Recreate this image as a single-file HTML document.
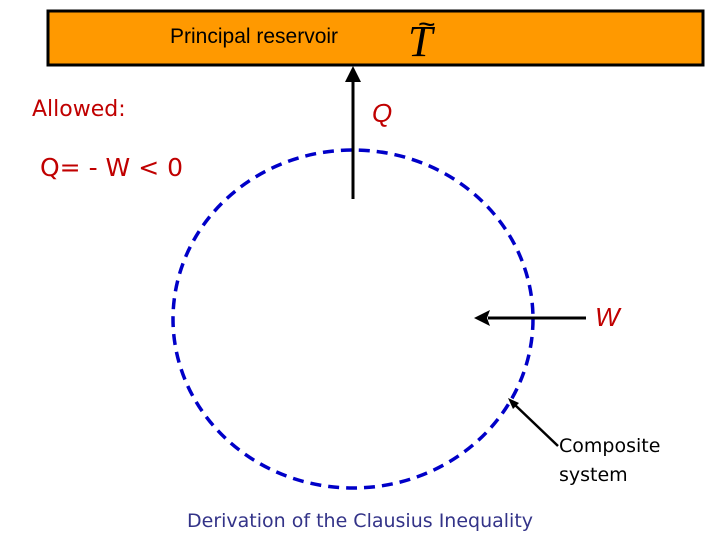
<!DOCTYPE html>
<html><head><meta charset="utf-8"><style>
body{margin:0;width:720px;height:540px;background:#fff;overflow:hidden;position:relative;font-family:"Liberation Sans",sans-serif}
.t{position:absolute;white-space:nowrap}
</style></head><body>
<svg width="720" height="540" style="position:absolute;left:0;top:0">
<rect x="48" y="11" width="655" height="54" fill="#ff9900" stroke="#000" stroke-width="3"/>
<ellipse cx="353" cy="319" rx="180" ry="169" fill="none" stroke="#0000c8" stroke-width="3.5" stroke-dasharray="11,7"/>
<line x1="353" y1="199" x2="353" y2="80" stroke="#000" stroke-width="3"/>
<polygon points="353,66 345,82 361,82" fill="#000"/>
<line x1="586" y1="318" x2="488" y2="318" stroke="#000" stroke-width="3"/>
<polygon points="474,318 490,310 487,318 490,326" fill="#000"/>
<line x1="558" y1="446" x2="514" y2="404" stroke="#000" stroke-width="2.5"/>
<polygon points="508,398 519,403 513,409" fill="#000"/>
</svg>
<div class="t" style="left:170px;top:25px;font-size:21px;color:#000">Principal reservoir</div>
<div class="t" style="left:408px;top:20px;font-size:44px;font-style:italic;color:#000;font-family:'Liberation Serif',serif;line-height:44px">T</div>
<div class="t" style="left:418px;top:8px;font-size:30px;color:#000">~</div>
<div class="t" style="left:32px;top:97px;font-size:22px;color:#c00000;font-family:'DejaVu Sans',sans-serif">Allowed:</div>
<div class="t" style="left:40px;top:153px;font-size:25px;color:#c00000;font-family:'DejaVu Sans',sans-serif">Q= - W &lt; 0</div>
<div class="t" style="left:372px;top:98px;font-size:26px;font-style:italic;color:#c00000">Q</div>
<div class="t" style="left:595px;top:302px;font-size:26px;font-style:italic;color:#c00000">W</div>
<div class="t" style="left:559px;top:432px;font-size:19px;color:#000;line-height:29px;font-family:'DejaVu Sans',sans-serif">Composite<br>system</div>
<div class="t" style="left:187px;top:510px;font-size:19px;color:#333388;font-family:'DejaVu Sans',sans-serif">Derivation of the Clausius Inequality</div>
</body></html>
